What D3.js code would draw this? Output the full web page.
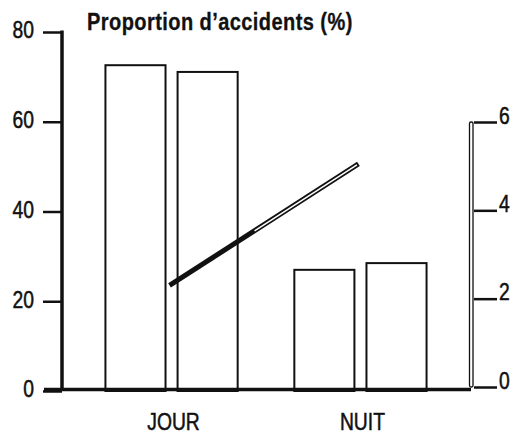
<!DOCTYPE html>
<html>
<head>
<meta charset="utf-8">
<script src="https://cdn.jsdelivr.net/npm/d3@7"></script>
<style>
  html, body { margin: 0; padding: 0; background: #fff; }
  svg { display: block; }
  text { font-family: 'Liberation Sans', Arial, sans-serif; fill: #111; }
</style>
</head>
<body>
<svg id="chart" width="511" height="434"></svg>
<script>
// ---- data ----
const categories = ["JOUR", "NUIT"];
const seriesNames = ["Série 1", "Série 2"];
const seriesA = [72.6, 27.0];   // first bar of each group (%)
const seriesB = [71.1, 28.5];   // second bar of each group (%)
const lineValues = [2.3, 5.05]; // right-axis series
const leftTicks = [0, 20, 40, 60, 80];
const rightTicks = [0, 2, 4, 6];
const titleText = "Proportion d\u2019accidents (%)";

const svg = d3.select("#chart");
const ink = "#111";
const SX = 0.84;   // horizontal condensing of label text
const SXT = 0.87;  // horizontal condensing of title

function condense(sel, sx) {
  sel.each(function () {
    const t = d3.select(this);
    const xv = +(t.attr("x") || 0);
    t.attr("x", xv / sx).attr("transform", `scale(${sx},1)`);
  });
}

const x0 = d3.scaleBand().domain(categories).range([62, 470]).paddingInner(0.3).paddingOuter(0.23);
const x1 = d3.scaleBand().domain(seriesNames).range([0, x0.bandwidth()]).paddingInner(0.167);
const y = d3.scaleLinear().domain([0, 80]).range([391, 32]);
const yR = d3.scaleLinear().domain([0, 6]).range([387, 122]);

// bars
const rows = categories.map((c, i) => ({ cat: c, vals: [seriesA[i], seriesB[i]] }));
const g = svg.append("g");
rows.forEach(r => {
  r.vals.forEach((v, j) => {
    g.append("rect")
      .attr("x", x0(r.cat) + x1(seriesNames[j]))
      .attr("y", y(v))
      .attr("width", x1.bandwidth())
      .attr("height", y(0) - y(v))
      .attr("fill", "#fff")
      .attr("stroke", ink)
      .attr("stroke-width", 2);
  });
});

// line series (double-stroked)
const pts = categories.map((c, i) => [x0(c) + x0.bandwidth() / 2 - 2, yR(lineValues[i])]);
svg.append("line")
  .attr("x1", pts[0][0]).attr("y1", pts[0][1])
  .attr("x2", pts[1][0]).attr("y2", pts[1][1])
  .attr("stroke", ink).attr("stroke-width", 5);
const f = 0.45;
svg.append("line")
  .attr("x1", pts[0][0] + f * (pts[1][0] - pts[0][0]))
  .attr("y1", pts[0][1] + f * (pts[1][1] - pts[0][1]))
  .attr("x2", pts[1][0] - 1.5)
  .attr("y2", pts[1][1] + 1)
  .attr("stroke", "#fff").attr("stroke-width", 1.5);

// left axis
const ax = svg.append("g").attr("transform", "translate(62,0)")
  .call(d3.axisLeft(y).tickValues(leftTicks).tickSize(19).tickSizeOuter(0).tickPadding(9).tickFormat(d3.format("d")));
ax.select(".domain").remove();
ax.selectAll(".tick line").attr("stroke", ink).attr("stroke-width", 2.5);
ax.selectAll(".tick text").attr("font-size", 23).attr("dy", "0.25em")
  .style("fill", ink).attr("stroke", ink).attr("stroke-width", 0.5);
condense(ax.selectAll(".tick text"), SX);
svg.append("line").attr("x1", 62).attr("x2", 62).attr("y1", y(80) - 1.5).attr("y2", 391)
  .attr("stroke", ink).attr("stroke-width", 3.5);

// right axis (outlined line)
svg.append("rect")
  .attr("x", 469.5).attr("y", yR(6)).attr("width", 3.5).attr("height", yR(0) - yR(6))
  .attr("rx", 1.5)
  .attr("fill", "#fff").attr("stroke", ink).attr("stroke-width", 1.3);
const axR = svg.append("g").attr("transform", "translate(474,0)")
  .call(d3.axisRight(yR).tickValues(rightTicks).tickSize(23).tickSizeOuter(0).tickPadding(2).tickFormat(d3.format("d")));
axR.select(".domain").remove();
axR.selectAll(".tick line").attr("stroke", ink).attr("stroke-width", 2.5);
axR.selectAll(".tick text").attr("font-size", 23).attr("dy", "0.05em")
  .style("fill", ink).attr("stroke", ink).attr("stroke-width", 0.5);
condense(axR.selectAll(".tick text"), SX);

// baseline
svg.append("line").attr("x1", 44).attr("x2", 471).attr("y1", 389.5).attr("y2", 389.5)
  .attr("stroke", ink).attr("stroke-width", 3.5);

// category labels
const cl = svg.append("g").selectAll("text").data(categories).join("text")
  .attr("x", d => x0(d) + x0.bandwidth() / 2 + 2)
  .attr("y", 430)
  .attr("text-anchor", "middle")
  .attr("font-size", 23)
  .attr("stroke", ink).attr("stroke-width", 0.5)
  .text(d => d);
condense(cl, SX);

// title
const tt = svg.append("text")
  .attr("x", 87).attr("y", 30)
  .attr("font-size", 23).attr("font-weight", "bold")
  .attr("letter-spacing", 0.5)
  .attr("stroke", ink).attr("stroke-width", 0.3)
  .text(titleText);
condense(tt, SXT);
</script>
</body>
</html>
